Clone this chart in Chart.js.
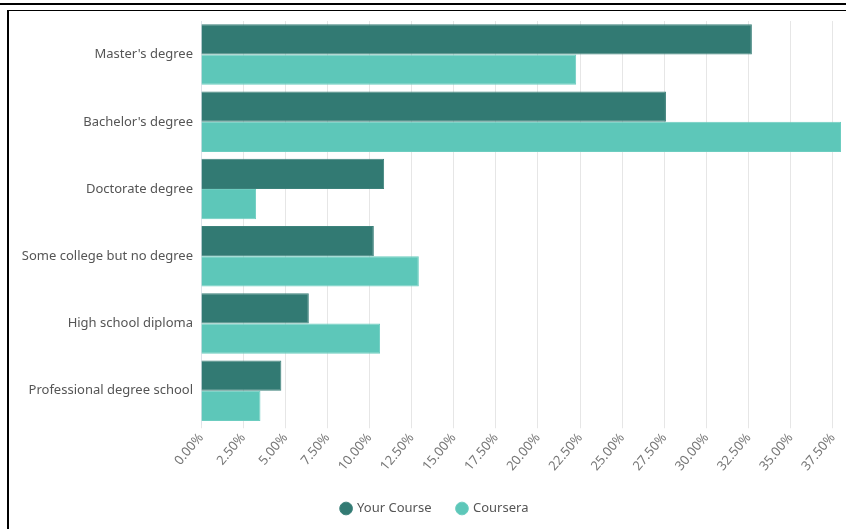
<!DOCTYPE html>
<html>
<head>
<meta charset="utf-8">
<script src="https://cdn.jsdelivr.net/npm/chart.js@4/dist/chart.umd.min.js"></script>
<style>
  html, body { margin: 0; padding: 0; background: #fff; }
  body { width: 846px; height: 529px; overflow: hidden; position: relative; }
  .rule { position: absolute; left: 0; top: 3px; width: 846px; height: 2px; background: #000; }
  .frame { position: absolute; left: 7px; top: 10px; width: 900px; height: 600px;
           border-left: 2px solid #000; border-top: 1px solid #000; }
  .wrap { position: absolute; left: 9px; top: 11px; width: 852px; height: 518px; }
</style>
</head>
<body>
<div class="rule"></div>
<div class="frame"></div>
<div class="wrap"><canvas id="chart"></canvas></div>
<script>
// Education level of learners, share of each group (percent)
const categories = [
  "Master's degree",
  "Bachelor's degree",
  "Doctorate degree",
  "Some college but no degree",
  "High school diploma",
  "Professional degree school"
];
const yourCourse = [32.70, 27.60, 10.87, 10.26, 6.40, 4.77];
const coursera   = [22.27, 37.99, 3.27, 12.93, 10.63, 3.53];
const seriesNames = ['Your Course', 'Coursera'];
const tickStep = 2.5;

const DARK = '#327a73';
const LIGHT = '#5dc7b9';
const FONT = "'Noto Sans', sans-serif";

new Chart(document.getElementById('chart'), {
  type: 'bar',
  data: {
    labels: categories,
    datasets: [
      { label: seriesNames[0], data: yourCourse, backgroundColor: DARK, borderColor: '#3d827b', borderWidth: 1,
        categoryPercentage: 0.9, barPercentage: 1.0 },
      { label: seriesNames[1], data: coursera, backgroundColor: LIGHT, borderColor: '#6ccdc0', borderWidth: 1,
        categoryPercentage: 0.9, barPercentage: 1.0 }
    ]
  },
  options: {
    indexAxis: 'y',
    responsive: true,
    maintainAspectRatio: false,
    animation: false,
    layout: { padding: { top: 10, right: 0, bottom: 4, left: 0 } },
    plugins: {
      legend: {
        position: 'bottom',
        labels: {
          usePointStyle: true,
          pointStyle: 'circle',
          boxWidth: 9,
          boxHeight: 9,
          padding: 26,
          color: '#555',
          font: { family: FONT, size: 13 }
        }
      },
      tooltip: { enabled: false }
    },
    scales: {
      x: {
        beginAtZero: true,
        bounds: 'data',
        afterBuildTicks: s => {
          // keep only the round steps, not the data maximum
          s.ticks = s.ticks.filter(t => Math.abs(t.value / tickStep - Math.round(t.value / tickStep)) < 1e-6);
        },
        afterFit: s => { s.paddingRight = 20; },
        ticks: {
          stepSize: tickStep,
          minRotation: 50,
          maxRotation: 50,
          padding: 2,
          color: '#777',
          font: { family: FONT, size: 13 },
          callback: v => Number(v).toFixed(2) + '%'
        },
        grid: { color: '#e6e6e6', drawTicks: true, tickLength: 4 },
        border: { display: false }
      },
      y: {
        afterFit: s => { s.width = 192; s.paddingTop = 0; s.paddingBottom = 0; },
        ticks: {
          padding: 8,
          color: '#555',
          font: { family: FONT, size: 13 }
        },
        grid: { display: false, drawTicks: false },
        border: { display: true, color: '#dde3ea' }
      }
    }
  }
});
</script>
</body>
</html>
